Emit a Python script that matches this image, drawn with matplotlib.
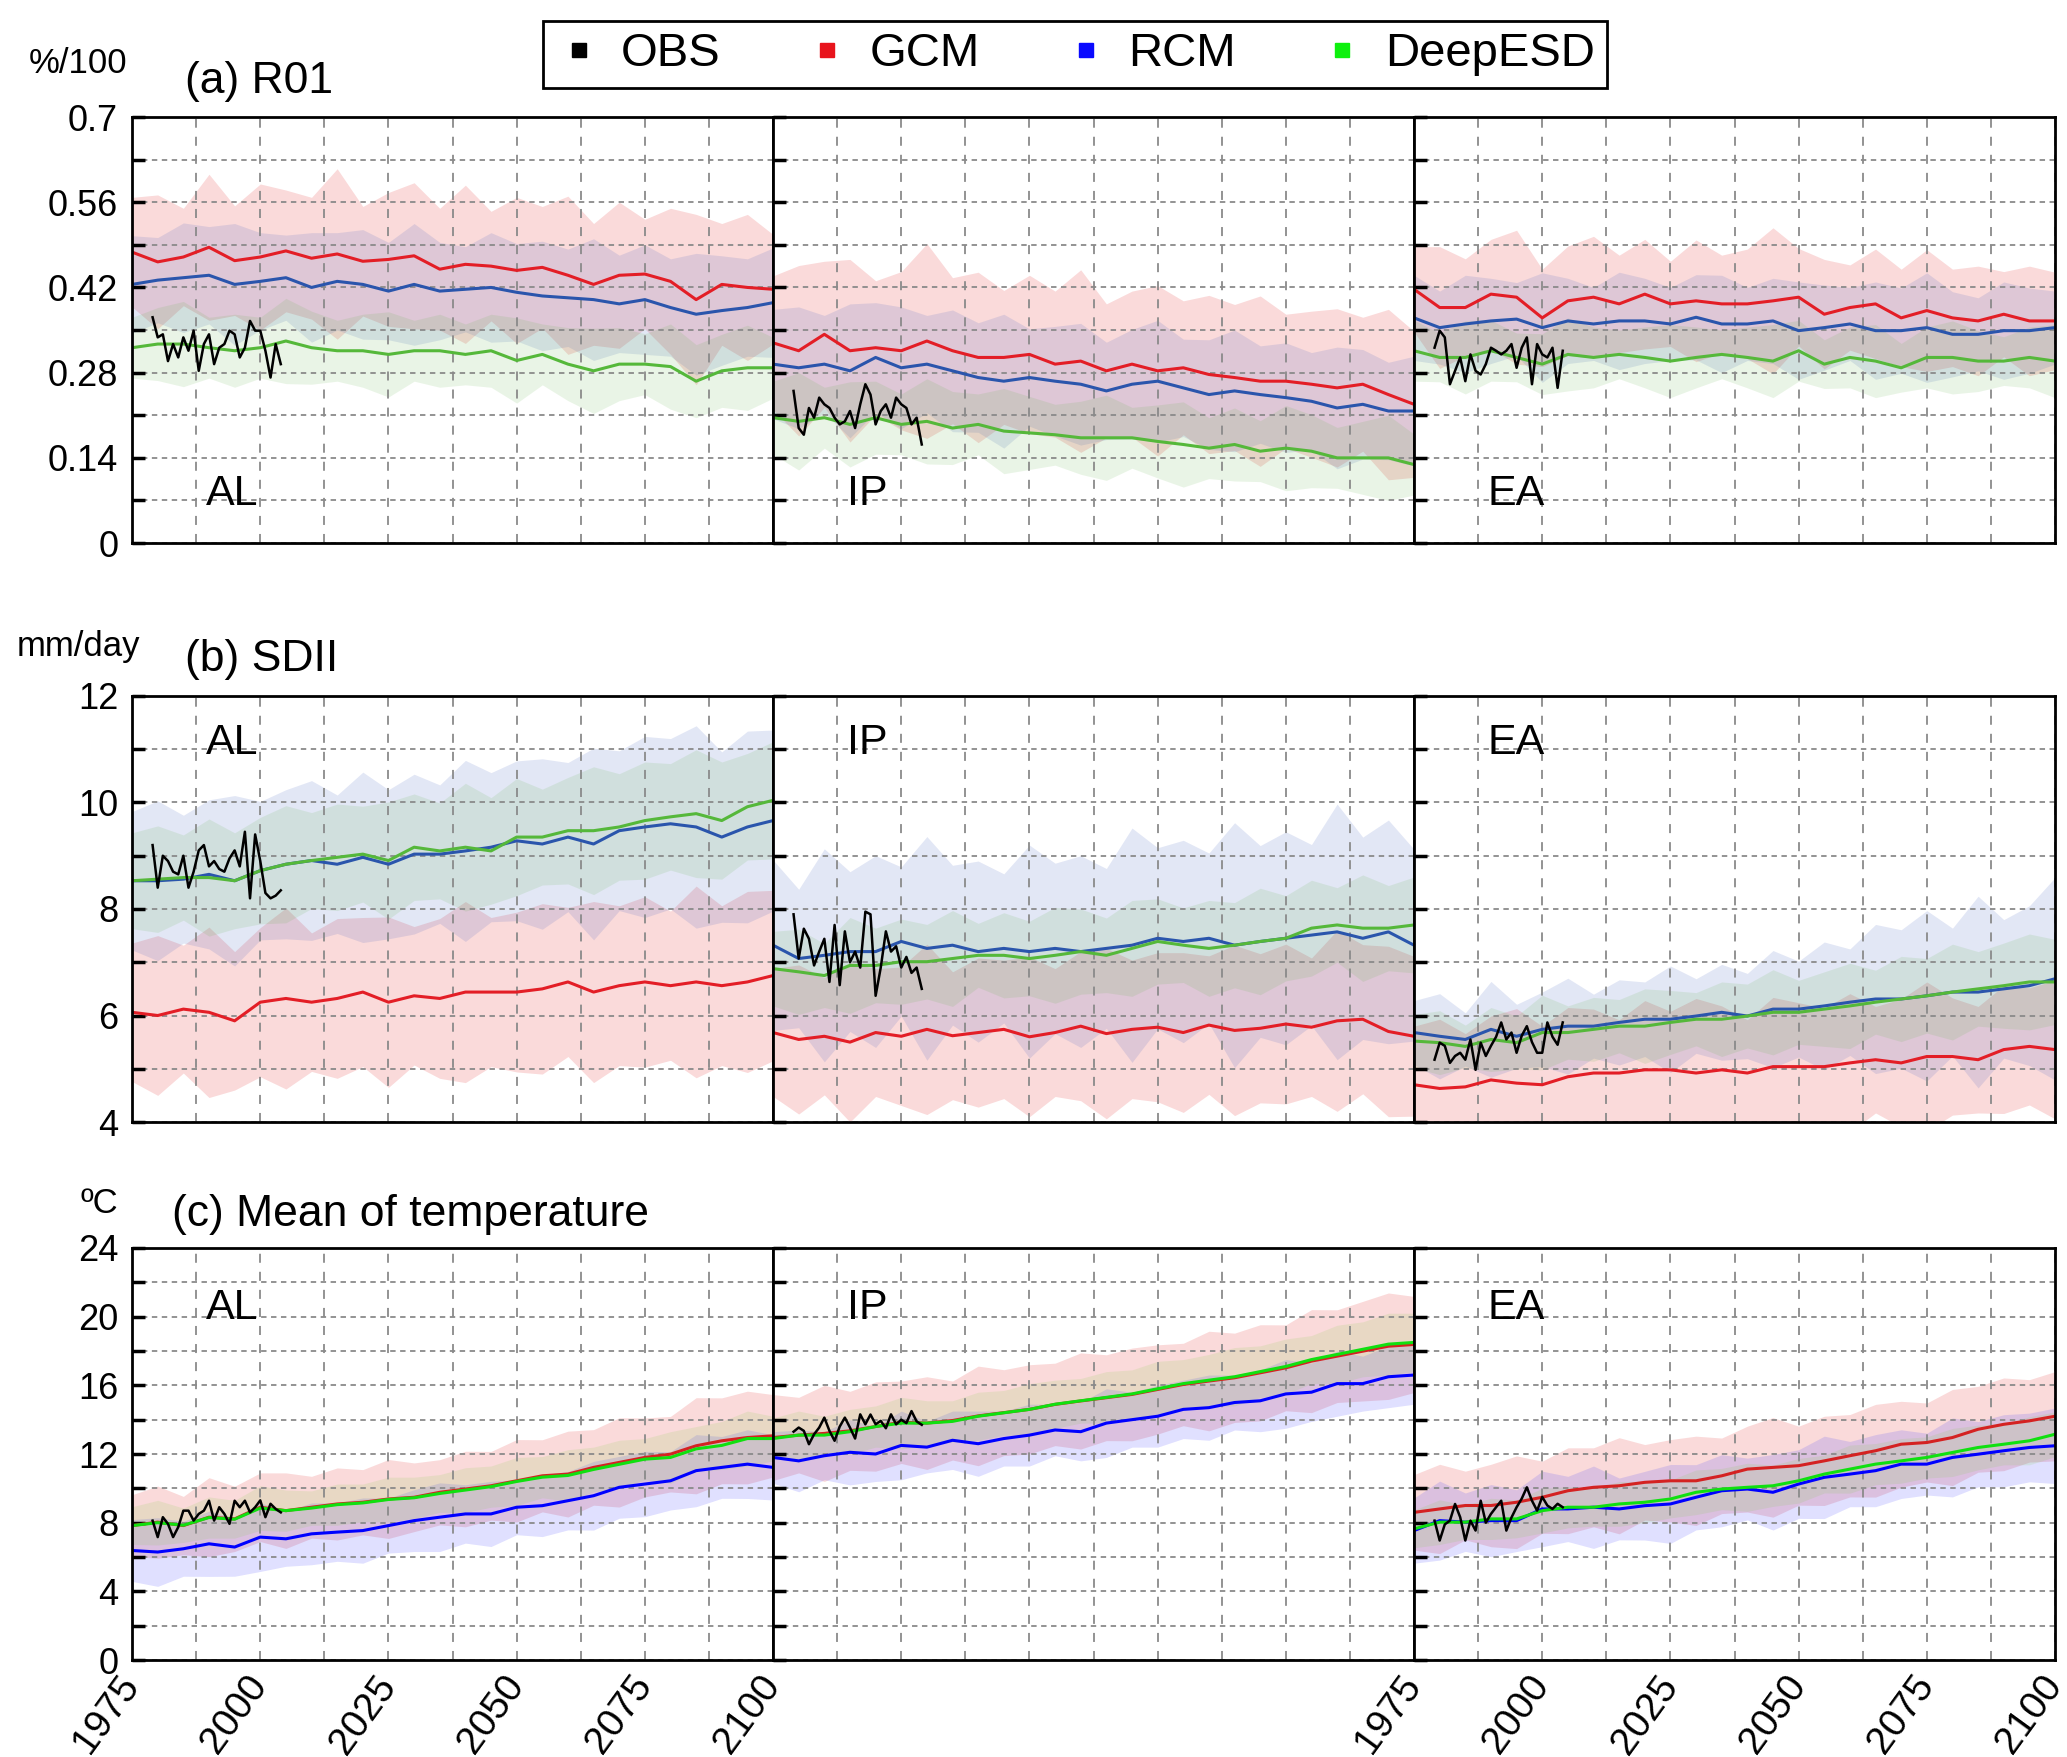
import numpy as np
import matplotlib
matplotlib.use("Agg")
import matplotlib.pyplot as plt
from matplotlib.lines import Line2D

plt.rcParams['font.family'] = ['Liberation Sans', 'DejaVu Sans']

years = list(range(1975, 2101, 5))
obs_years = list(range(1979, 2005))
regions = ['AL', 'IP', 'EA']

# ---------------- (a) R01 ----------------
r01_al_gcm = [0.478, 0.462, 0.470, 0.486, 0.464, 0.470, 0.480, 0.468, 0.475, 0.463, 0.466, 0.472, 0.450, 0.458, 0.455, 0.448, 0.453, 0.440, 0.425, 0.440, 0.442, 0.430, 0.400, 0.425, 0.420, 0.417]
r01_al_rcm = [0.425, 0.432, 0.436, 0.440, 0.425, 0.430, 0.436, 0.420, 0.430, 0.425, 0.414, 0.425, 0.414, 0.417, 0.420, 0.412, 0.406, 0.403, 0.400, 0.393, 0.400, 0.387, 0.376, 0.382, 0.387, 0.395]
r01_al_esd = [0.321, 0.327, 0.327, 0.321, 0.316, 0.321, 0.332, 0.321, 0.316, 0.316, 0.310, 0.316, 0.316, 0.310, 0.316, 0.300, 0.310, 0.294, 0.283, 0.294, 0.294, 0.290, 0.266, 0.283, 0.288, 0.288]
r01_al_obs = [0.371, 0.338, 0.343, 0.299, 0.327, 0.305, 0.338, 0.316, 0.349, 0.283, 0.327, 0.343, 0.294, 0.321, 0.327, 0.349, 0.343, 0.305, 0.321, 0.365, 0.349, 0.349, 0.316, 0.272, 0.327, 0.294]
r01_al_gcm_sd = [0.09, 0.11, 0.08, 0.12, 0.09, 0.12, 0.10, 0.10, 0.14, 0.09, 0.11, 0.12, 0.10, 0.13, 0.09, 0.12, 0.10, 0.13, 0.10, 0.12, 0.09, 0.12, 0.14, 0.10, 0.12, 0.09]
r01_al_rcm_sd = [0.08, 0.07, 0.09, 0.08, 0.10, 0.08, 0.07, 0.09, 0.08, 0.09, 0.08, 0.10, 0.08, 0.07, 0.09, 0.08, 0.09, 0.08, 0.10, 0.08, 0.09, 0.08, 0.10, 0.09, 0.08, 0.09]
r01_al_esd_sd = [0.05, 0.06, 0.07, 0.05, 0.06, 0.05, 0.07, 0.06, 0.05, 0.06, 0.07, 0.05, 0.06, 0.05, 0.06, 0.07, 0.05, 0.06, 0.07, 0.06, 0.05, 0.07, 0.06, 0.06, 0.07, 0.05]

r01_ip_gcm = [0.329, 0.316, 0.343, 0.316, 0.321, 0.316, 0.332, 0.316, 0.305, 0.305, 0.310, 0.294, 0.299, 0.283, 0.294, 0.283, 0.288, 0.277, 0.272, 0.266, 0.266, 0.261, 0.255, 0.261, 0.244, 0.228]
r01_ip_rcm = [0.294, 0.288, 0.294, 0.283, 0.305, 0.288, 0.294, 0.283, 0.272, 0.266, 0.272, 0.266, 0.261, 0.250, 0.261, 0.266, 0.255, 0.244, 0.250, 0.244, 0.239, 0.233, 0.222, 0.228, 0.217, 0.217]
r01_ip_esd = [0.206, 0.200, 0.206, 0.195, 0.206, 0.195, 0.200, 0.189, 0.195, 0.184, 0.181, 0.178, 0.173, 0.173, 0.173, 0.167, 0.162, 0.156, 0.162, 0.151, 0.156, 0.151, 0.140, 0.140, 0.140, 0.129]
r01_ip_obs = [0.250, 0.189, 0.178, 0.222, 0.206, 0.239, 0.228, 0.222, 0.206, 0.195, 0.200, 0.217, 0.189, 0.228, 0.261, 0.244, 0.195, 0.217, 0.228, 0.206, 0.239, 0.228, 0.222, 0.195, 0.206, 0.162]
r01_ip_gcm_sd = [0.11, 0.14, 0.12, 0.15, 0.11, 0.13, 0.16, 0.12, 0.14, 0.11, 0.13, 0.12, 0.15, 0.11, 0.12, 0.14, 0.11, 0.13, 0.12, 0.14, 0.11, 0.12, 0.13, 0.11, 0.14, 0.12]
r01_ip_rcm_sd = [0.09, 0.10, 0.08, 0.11, 0.09, 0.10, 0.08, 0.10, 0.09, 0.11, 0.08, 0.09, 0.10, 0.08, 0.09, 0.10, 0.08, 0.09, 0.10, 0.08, 0.09, 0.08, 0.10, 0.09, 0.08, 0.09]
r01_ip_esd_sd = [0.06, 0.08, 0.05, 0.07, 0.06, 0.05, 0.07, 0.06, 0.05, 0.07, 0.06, 0.05, 0.06, 0.07, 0.05, 0.06, 0.07, 0.05, 0.06, 0.05, 0.07, 0.06, 0.05, 0.06, 0.07, 0.05]

r01_ea_gcm = [0.417, 0.387, 0.387, 0.409, 0.404, 0.370, 0.398, 0.404, 0.393, 0.409, 0.393, 0.398, 0.393, 0.393, 0.398, 0.404, 0.376, 0.387, 0.393, 0.370, 0.382, 0.370, 0.365, 0.376, 0.365, 0.365]
r01_ea_rcm = [0.370, 0.354, 0.360, 0.365, 0.368, 0.354, 0.365, 0.360, 0.365, 0.365, 0.360, 0.371, 0.360, 0.360, 0.365, 0.349, 0.354, 0.360, 0.349, 0.349, 0.354, 0.343, 0.343, 0.349, 0.349, 0.354]
r01_ea_esd = [0.316, 0.305, 0.305, 0.316, 0.305, 0.294, 0.310, 0.305, 0.310, 0.305, 0.299, 0.305, 0.310, 0.305, 0.299, 0.316, 0.294, 0.305, 0.299, 0.288, 0.305, 0.305, 0.299, 0.299, 0.305, 0.299]
r01_ea_obs = [0.321, 0.349, 0.338, 0.261, 0.283, 0.305, 0.266, 0.310, 0.283, 0.277, 0.294, 0.321, 0.316, 0.310, 0.316, 0.327, 0.288, 0.321, 0.338, 0.261, 0.327, 0.310, 0.305, 0.321, 0.255, 0.316]
r01_ea_gcm_sd = [0.07, 0.10, 0.08, 0.09, 0.11, 0.08, 0.09, 0.10, 0.08, 0.09, 0.07, 0.10, 0.08, 0.09, 0.12, 0.08, 0.09, 0.07, 0.09, 0.08, 0.10, 0.08, 0.09, 0.07, 0.09, 0.08]
r01_ea_rcm_sd = [0.07, 0.06, 0.08, 0.07, 0.06, 0.09, 0.07, 0.06, 0.08, 0.07, 0.06, 0.07, 0.08, 0.06, 0.07, 0.08, 0.07, 0.06, 0.08, 0.07, 0.09, 0.07, 0.06, 0.08, 0.07, 0.06]
r01_ea_esd_sd = [0.05, 0.04, 0.06, 0.05, 0.04, 0.05, 0.06, 0.05, 0.04, 0.05, 0.06, 0.05, 0.04, 0.05, 0.06, 0.05, 0.04, 0.05, 0.06, 0.04, 0.05, 0.06, 0.05, 0.04, 0.05, 0.06]

# ---------------- (b) SDII ----------------
sdii_al_gcm = [6.06, 6.00, 6.12, 6.06, 5.90, 6.25, 6.32, 6.25, 6.32, 6.44, 6.25, 6.37, 6.32, 6.44, 6.44, 6.44, 6.50, 6.63, 6.44, 6.56, 6.63, 6.56, 6.63, 6.56, 6.63, 6.75]
sdii_al_rcm = [8.53, 8.53, 8.56, 8.65, 8.53, 8.72, 8.84, 8.91, 8.84, 8.97, 8.84, 9.03, 9.03, 9.09, 9.16, 9.28, 9.22, 9.35, 9.22, 9.47, 9.54, 9.60, 9.54, 9.35, 9.54, 9.66]
sdii_al_esd = [8.53, 8.56, 8.59, 8.59, 8.53, 8.72, 8.84, 8.91, 8.97, 9.03, 8.91, 9.16, 9.09, 9.16, 9.09, 9.35, 9.35, 9.47, 9.47, 9.54, 9.66, 9.73, 9.79, 9.66, 9.92, 10.04]
sdii_al_obs = [9.20, 8.40, 9.00, 8.90, 8.70, 8.65, 9.00, 8.40, 8.70, 9.10, 9.20, 8.80, 8.90, 8.75, 8.70, 8.95, 9.10, 8.80, 9.45, 8.20, 9.40, 8.90, 8.30, 8.20, 8.25, 8.35]
sdii_al_gcm_sd = [1.3, 1.5, 1.2, 1.6, 1.3, 1.4, 1.7, 1.3, 1.5, 1.4, 1.6, 1.3, 1.5, 1.7, 1.4, 1.5, 1.6, 1.4, 1.7, 1.5, 1.6, 1.4, 1.8, 1.5, 1.7, 1.6]
sdii_al_rcm_sd = [1.3, 1.5, 1.2, 1.4, 1.6, 1.3, 1.4, 1.5, 1.3, 1.6, 1.4, 1.5, 1.3, 1.7, 1.4, 1.5, 1.6, 1.4, 1.8, 1.5, 1.7, 1.6, 1.9, 1.6, 1.8, 1.7]
sdii_al_esd_sd = [0.9, 1.0, 0.8, 1.1, 0.9, 1.0, 1.1, 0.9, 1.0, 0.9, 1.1, 1.0, 0.9, 1.2, 1.0, 1.1, 0.9, 1.0, 1.2, 1.0, 1.1, 1.0, 1.2, 1.1, 1.0, 1.1]

sdii_ip_gcm = [5.68, 5.55, 5.61, 5.50, 5.68, 5.61, 5.74, 5.62, 5.68, 5.74, 5.60, 5.68, 5.80, 5.66, 5.74, 5.78, 5.68, 5.82, 5.72, 5.76, 5.84, 5.78, 5.90, 5.93, 5.70, 5.61]
sdii_ip_rcm = [7.32, 7.07, 7.13, 7.20, 7.20, 7.39, 7.26, 7.32, 7.20, 7.26, 7.20, 7.26, 7.20, 7.26, 7.32, 7.45, 7.39, 7.45, 7.32, 7.39, 7.45, 7.51, 7.57, 7.45, 7.57, 7.32]
sdii_ip_esd = [6.88, 6.82, 6.75, 6.94, 6.94, 7.01, 7.01, 7.07, 7.13, 7.13, 7.07, 7.13, 7.20, 7.13, 7.26, 7.39, 7.32, 7.26, 7.32, 7.39, 7.45, 7.64, 7.70, 7.64, 7.64, 7.70]
sdii_ip_obs = [7.90, 7.07, 7.63, 7.44, 6.94, 7.20, 7.44, 6.63, 7.70, 6.57, 7.58, 7.00, 7.20, 6.90, 7.95, 7.90, 6.37, 6.90, 7.58, 7.20, 7.30, 6.90, 7.10, 6.80, 6.90, 6.50]
sdii_ip_gcm_sd = [1.2, 1.4, 1.1, 1.5, 1.2, 1.3, 1.6, 1.2, 1.4, 1.3, 1.5, 1.2, 1.4, 1.6, 1.3, 1.4, 1.5, 1.3, 1.6, 1.4, 1.5, 1.3, 1.7, 1.4, 1.6, 1.5]
sdii_ip_rcm_sd = [1.6, 1.3, 2.0, 1.5, 1.8, 1.4, 2.1, 1.5, 1.7, 1.4, 2.0, 1.6, 1.8, 1.5, 2.2, 1.7, 1.9, 1.6, 2.3, 1.8, 2.0, 1.7, 2.4, 1.9, 2.1, 1.8]
sdii_ip_esd_sd = [0.7, 0.8, 0.6, 0.9, 0.7, 0.8, 0.7, 0.9, 0.6, 0.8, 0.7, 0.9, 0.8, 0.7, 0.9, 0.8, 0.7, 0.9, 0.8, 1.0, 0.8, 0.9, 0.7, 1.0, 0.8, 0.9]

sdii_ea_gcm = [4.70, 4.63, 4.66, 4.79, 4.73, 4.70, 4.85, 4.92, 4.92, 4.98, 4.98, 4.92, 4.98, 4.92, 5.04, 5.04, 5.04, 5.11, 5.17, 5.11, 5.23, 5.23, 5.17, 5.36, 5.42, 5.36]
sdii_ea_rcm = [5.68, 5.61, 5.55, 5.74, 5.61, 5.74, 5.80, 5.80, 5.87, 5.93, 5.93, 5.99, 6.06, 5.99, 6.12, 6.12, 6.18, 6.25, 6.31, 6.31, 6.37, 6.44, 6.44, 6.50, 6.56, 6.69]
sdii_ea_esd = [5.52, 5.49, 5.42, 5.55, 5.49, 5.68, 5.68, 5.74, 5.80, 5.80, 5.87, 5.93, 5.93, 5.99, 6.06, 6.06, 6.12, 6.18, 6.25, 6.31, 6.37, 6.44, 6.50, 6.56, 6.63, 6.63]
sdii_ea_obs = [5.17, 5.49, 5.43, 5.11, 5.24, 5.30, 5.17, 5.55, 4.98, 5.49, 5.24, 5.43, 5.60, 5.87, 5.55, 5.68, 5.30, 5.62, 5.80, 5.50, 5.30, 5.30, 5.87, 5.60, 5.45, 5.87]
sdii_ea_gcm_sd = [1.1, 1.3, 1.0, 1.2, 1.4, 1.1, 1.3, 1.2, 1.0, 1.3, 1.1, 1.4, 1.2, 1.0, 1.3, 1.2, 1.1, 1.3, 1.0, 1.2, 1.4, 1.1, 1.0, 1.2, 1.1, 1.3]
sdii_ea_rcm_sd = [0.6, 0.8, 0.5, 0.9, 0.6, 0.7, 0.9, 0.6, 0.8, 0.7, 1.0, 0.7, 0.9, 0.8, 1.1, 0.9, 1.2, 1.0, 1.4, 1.3, 1.6, 1.2, 1.8, 1.3, 1.5, 1.9]
sdii_ea_esd_sd = [0.5, 0.6, 0.4, 0.6, 0.5, 0.7, 0.5, 0.6, 0.5, 0.7, 0.6, 0.5, 0.7, 0.6, 0.8, 0.6, 0.7, 0.8, 0.6, 0.8, 0.7, 0.9, 0.7, 0.8, 0.9, 0.8]

# ---------------- (c) mean temperature ----------------
tas_al_gcm = [7.83, 8.03, 7.83, 8.32, 8.22, 8.90, 8.70, 8.90, 9.09, 9.19, 9.38, 9.48, 9.77, 9.96, 10.15, 10.44, 10.73, 10.83, 11.22, 11.51, 11.80, 11.99, 12.48, 12.77, 12.96, 13.06]
tas_al_rcm = [6.38, 6.29, 6.48, 6.77, 6.58, 7.16, 7.06, 7.35, 7.45, 7.54, 7.83, 8.12, 8.32, 8.51, 8.51, 8.90, 8.99, 9.28, 9.57, 10.06, 10.25, 10.44, 11.03, 11.22, 11.41, 11.22]
tas_al_esd = [7.83, 8.00, 7.85, 8.30, 8.20, 8.85, 8.70, 8.85, 9.05, 9.15, 9.35, 9.45, 9.70, 9.90, 10.10, 10.40, 10.65, 10.75, 11.10, 11.40, 11.70, 11.80, 12.30, 12.50, 12.90, 12.90]
tas_al_obs = [8.12, 7.16, 8.32, 7.93, 7.16, 7.74, 8.70, 8.70, 8.12, 8.51, 8.70, 9.28, 8.12, 8.90, 8.51, 7.93, 9.28, 8.90, 9.28, 8.60, 8.90, 9.30, 8.32, 9.10, 8.80, 8.60]
tas_al_gcm_sd = [1.8, 2.1, 1.7, 2.3, 1.9, 2.0, 2.2, 1.8, 2.1, 1.9, 2.3, 2.0, 1.9, 2.2, 2.0, 2.4, 2.1, 2.5, 2.2, 2.6, 2.3, 2.2, 2.8, 2.5, 2.7, 2.4]
tas_al_rcm_sd = [1.8, 2.0, 1.6, 1.9, 1.7, 2.0, 1.6, 1.8, 1.7, 1.9, 1.6, 1.8, 2.0, 1.7, 1.9, 1.6, 1.8, 1.7, 2.0, 1.8, 1.9, 1.7, 2.1, 1.8, 2.0, 1.9]
tas_al_esd_sd = [1.1, 1.3, 1.0, 1.2, 1.1, 1.3, 1.2, 1.0, 1.2, 1.1, 1.3, 1.2, 1.1, 1.3, 1.2, 1.4, 1.2, 1.5, 1.3, 1.4, 1.2, 1.5, 1.3, 1.4, 1.6, 1.3]

tas_ip_gcm = [12.96, 13.10, 13.20, 13.35, 13.60, 13.85, 13.80, 13.95, 14.22, 14.41, 14.60, 14.89, 15.09, 15.28, 15.47, 15.76, 16.05, 16.25, 16.44, 16.73, 17.02, 17.41, 17.70, 17.99, 18.28, 18.38]
tas_ip_rcm = [11.80, 11.60, 11.90, 12.10, 12.00, 12.50, 12.40, 12.80, 12.60, 12.90, 13.10, 13.40, 13.30, 13.80, 14.00, 14.20, 14.60, 14.70, 15.00, 15.10, 15.50, 15.60, 16.10, 16.10, 16.50, 16.60]
tas_ip_esd = [12.90, 13.10, 13.10, 13.30, 13.60, 13.80, 13.80, 13.90, 14.20, 14.40, 14.60, 14.90, 15.10, 15.30, 15.50, 15.80, 16.10, 16.30, 16.50, 16.80, 17.10, 17.50, 17.80, 18.10, 18.40, 18.50]
tas_ip_obs = [13.30, 13.54, 13.35, 12.57, 13.15, 13.54, 14.12, 13.35, 12.77, 13.60, 14.12, 13.54, 12.90, 14.31, 13.73, 14.30, 13.73, 13.93, 13.50, 14.31, 13.73, 14.00, 13.80, 14.50, 13.90, 13.70]
tas_ip_gcm_sd = [2.5, 2.2, 2.8, 2.3, 2.6, 2.4, 2.7, 2.3, 2.9, 2.5, 2.6, 2.4, 2.8, 2.5, 2.7, 2.6, 2.4, 2.9, 2.6, 2.8, 2.5, 3.0, 2.7, 2.9, 3.1, 2.8]
tas_ip_rcm_sd = [1.5, 1.8, 1.4, 1.9, 1.6, 2.0, 1.5, 1.7, 1.9, 1.6, 1.8, 1.5, 1.7, 2.0, 1.6, 1.8, 1.7, 1.9, 1.6, 1.8, 2.0, 1.7, 1.9, 1.6, 1.8, 1.7]
tas_ip_esd_sd = [1.2, 1.4, 1.1, 1.3, 1.2, 1.5, 1.3, 1.2, 1.4, 1.3, 1.5, 1.4, 1.3, 1.5, 1.4, 1.6, 1.4, 1.5, 1.7, 1.5, 1.6, 1.4, 1.7, 1.6, 1.8, 1.7]

tas_ea_gcm = [8.60, 8.80, 9.00, 9.00, 9.19, 9.48, 9.86, 10.06, 10.15, 10.35, 10.44, 10.44, 10.73, 11.12, 11.22, 11.32, 11.60, 11.90, 12.19, 12.57, 12.67, 12.96, 13.44, 13.73, 13.93, 14.20]
tas_ea_rcm = [7.54, 8.12, 8.03, 8.12, 8.12, 8.80, 8.80, 8.90, 8.80, 8.99, 9.09, 9.48, 9.86, 9.96, 9.77, 10.25, 10.64, 10.83, 11.03, 11.41, 11.41, 11.80, 11.99, 12.19, 12.38, 12.48]
tas_ea_esd = [7.64, 8.03, 8.03, 8.22, 8.22, 8.70, 8.90, 8.90, 9.09, 9.19, 9.38, 9.77, 9.96, 10.06, 10.15, 10.44, 10.83, 11.12, 11.41, 11.60, 11.80, 12.09, 12.38, 12.57, 12.77, 13.15]
tas_ea_obs = [8.12, 6.96, 7.90, 8.12, 9.09, 8.32, 6.96, 8.12, 7.54, 9.28, 8.00, 8.51, 8.90, 9.28, 7.54, 8.30, 8.90, 9.40, 10.06, 9.28, 8.70, 9.50, 9.00, 8.80, 9.10, 8.90]
tas_ea_gcm_sd = [2.2, 2.6, 2.0, 2.4, 2.7, 2.1, 2.5, 2.3, 2.8, 2.2, 2.4, 2.6, 2.2, 2.5, 2.9, 2.3, 2.6, 2.4, 2.7, 2.5, 2.3, 2.8, 2.5, 2.7, 2.4, 2.6]
tas_ea_rcm_sd = [1.9, 2.3, 1.7, 2.1, 1.8, 2.2, 1.9, 2.4, 1.8, 2.0, 2.3, 1.9, 2.1, 1.8, 2.2, 2.0, 2.4, 1.9, 2.1, 2.0, 1.8, 2.3, 1.9, 2.1, 2.0, 2.2]
tas_ea_esd_sd = [1.1, 1.3, 1.0, 1.2, 1.1, 1.3, 1.2, 1.1, 1.3, 1.2, 1.1, 1.3, 1.2, 1.4, 1.2, 1.3, 1.1, 1.4, 1.2, 1.3, 1.2, 1.4, 1.3, 1.2, 1.4, 1.3]

x_labels = ['1975', '', '2000', '', '2025', '', '2050', '', '2075', '', '2100']

rows = [
    dict(panels=[(r01_al_gcm, r01_al_rcm, r01_al_esd, r01_al_obs, r01_al_gcm_sd, r01_al_rcm_sd, r01_al_esd_sd),
                 (r01_ip_gcm, r01_ip_rcm, r01_ip_esd, r01_ip_obs, r01_ip_gcm_sd, r01_ip_rcm_sd, r01_ip_esd_sd),
                 (r01_ea_gcm, r01_ea_rcm, r01_ea_esd, r01_ea_obs, r01_ea_gcm_sd, r01_ea_rcm_sd, r01_ea_esd_sd)],
         ylim=(0, 0.7), major=[0, 0.14, 0.28, 0.42, 0.56, 0.7], minor=np.arange(0.07, 0.7, 0.14),
         ylabels=['0', '0.14', '0.28', '0.42', '0.56', '0.7'],
         colors=['#e31e26', '#2a55ac', '#55b83a'], band=['#e31a1c', '#4060c0', '#5ab040'],
         box=(0.6909, 0.2425), lab_y=0.115),
    dict(panels=[(sdii_al_gcm, sdii_al_rcm, sdii_al_esd, sdii_al_obs, sdii_al_gcm_sd, sdii_al_rcm_sd, sdii_al_esd_sd),
                 (sdii_ip_gcm, sdii_ip_rcm, sdii_ip_esd, sdii_ip_obs, sdii_ip_gcm_sd, sdii_ip_rcm_sd, sdii_ip_esd_sd),
                 (sdii_ea_gcm, sdii_ea_rcm, sdii_ea_esd, sdii_ea_obs, sdii_ea_gcm_sd, sdii_ea_rcm_sd, sdii_ea_esd_sd)],
         ylim=(4, 12), major=[4, 6, 8, 10, 12], minor=[5, 7, 9, 11],
         ylabels=['4', '6', '8', '10', '12'],
         colors=['#e31e26', '#2a55ac', '#55b83a'], band=['#e31a1c', '#4060c0', '#5ab040'],
         box=(0.3614, 0.2425), lab_y=0.89),
    dict(panels=[(tas_al_gcm, tas_al_rcm, tas_al_esd, tas_al_obs, tas_al_gcm_sd, tas_al_rcm_sd, tas_al_esd_sd),
                 (tas_ip_gcm, tas_ip_rcm, tas_ip_esd, tas_ip_obs, tas_ip_gcm_sd, tas_ip_rcm_sd, tas_ip_esd_sd),
                 (tas_ea_gcm, tas_ea_rcm, tas_ea_esd, tas_ea_obs, tas_ea_gcm_sd, tas_ea_rcm_sd, tas_ea_esd_sd)],
         ylim=(0, 24), major=[0, 4, 8, 12, 16, 20, 24], minor=[2, 6, 10, 14, 18, 22],
         ylabels=['0', '4', '8', '12', '16', '20', '24'],
         colors=['#d42222', '#0000ff', '#10e010'], band=['#e31a1c', '#3030ff', '#70d030'],
         box=(0.0552, 0.2345), lab_y=0.855),
]

fig = plt.figure(figsize=(20.67, 17.57), dpi=100)
left = 0.0639
pw = 0.3101
x = np.array(years)

for ri, row in enumerate(rows):
    bottom, height = row['box']
    for ci, p in enumerate(row['panels']):
        gcm, rcm, esd, obs, gsd, rsd, esd_sd = p
        ax = fig.add_axes([left + ci * pw, bottom, pw, height])
        for m, s, c, a in zip((gcm, rcm, esd), (gsd, rsd, esd_sd), row['band'], (0.16, 0.15, 0.13)):
            m = np.array(m)
            s = np.array(s)
            ax.fill_between(x, m - s, m + s, color=c, alpha=a, lw=0)
        ax.plot(x, gcm, color=row['colors'][0], lw=2.2)
        ax.plot(x, rcm, color=row['colors'][1], lw=2.2)
        ax.plot(x, esd, color=row['colors'][2], lw=2.2)
        ax.plot(obs_years, obs, color='black', lw=1.8)

        ax.set_xlim(1975, 2100)
        ax.set_ylim(*row['ylim'])
        ax.set_xticks(np.arange(1975, 2100.1, 12.5))
        if ri == 2 and ci != 1:
            ax.set_xticklabels(x_labels, rotation=54, ha='right', va='center',
                               rotation_mode='anchor', fontsize=28)
        else:
            ax.set_xticklabels([])
        ax.set_yticks(row['major'])
        ax.set_yticks(row['minor'], minor=True)
        if ci == 0:
            ax.set_yticklabels(row['ylabels'], fontsize=26)
        else:
            ax.set_yticklabels([])
        ax.tick_params(axis='x', length=0, pad=14)
        ax.tick_params(axis='y', which='both', direction='in', length=9, width=2.5, pad=10)
        ax.xaxis.grid(True, color='#8a8a8a', ls=(0, (5, 5)), lw=1.3)
        ax.yaxis.grid(True, which='both', color='#8a8a8a', ls=(0, (3, 2.5)), lw=1.3)
        for sp in ax.spines.values():
            sp.set_linewidth(2.0)
            sp.set_color('black')
        ax.text(0.115, row['lab_y'], regions[ci], transform=ax.transAxes,
                fontsize=31, va='center', ha='left')

# titles and units
fig.text(0.0895, 0.947, '(a) R01', fontsize=32, va='baseline')
fig.text(0.038, 0.964, '%/100', fontsize=25, va='center', ha='center')
fig.text(0.0895, 0.618, '(b) SDII', fontsize=32, va='baseline')
fig.text(0.038, 0.632, 'mm/day', fontsize=25, va='center', ha='center')
fig.text(0.083, 0.302, '(c) Mean of temperature', fontsize=32, va='baseline')
fig.text(0.048, 0.315, 'ºC', fontsize=25, va='center', ha='center')

handles = [Line2D([], [], ls='none', marker='s', ms=10, color=c)
           for c in ['#000000', '#e8141c', '#0a0aff', '#0ef00e']]
leg = fig.legend(handles, ['OBS', 'GCM', 'RCM', 'DeepESD'], loc='center',
                 bbox_to_anchor=(0.52, 0.969), ncol=4, fontsize=34, frameon=True,
                 fancybox=False, edgecolor='black', framealpha=1, handletextpad=0.4,
                 columnspacing=1.75, borderpad=0.25, handlelength=1.0)
leg.get_frame().set_linewidth(2)

fig.savefig('out.png', dpi=100)
